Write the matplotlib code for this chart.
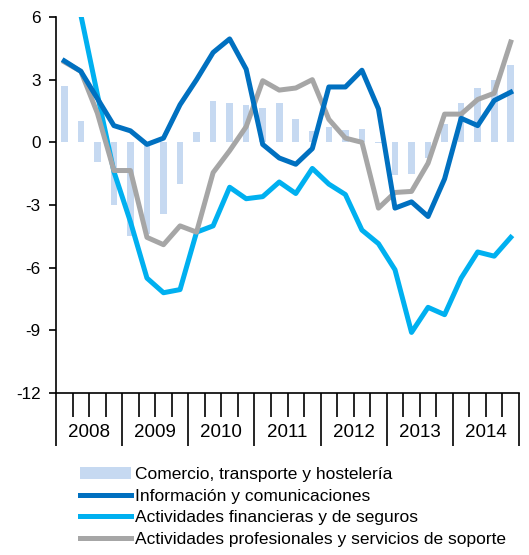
import matplotlib
matplotlib.use("Agg")
import matplotlib.pyplot as plt

plt.rcParams["font.family"] = ["Liberation Sans", "DejaVu Sans"]
plt.rcParams["axes.unicode_minus"] = False

#Quarterly data 2008Q1 - 2014Q4
years = ["2008", "2009", "2010", "2011", "2012", "2013", "2014"]

comercio = [2.7, 1.0, -0.95, -3.0, -4.5, -4.4, -3.45, -2.0,
            0.5, 2.0, 1.9, 1.8, 1.65, 1.9, 1.1, 0.55,
            0.75, 0.6, 0.62, -0.05, -1.55, -1.5, -0.75, 0.9,
            1.9, 2.6, 3.0, 3.7]

informacion = [3.9, 3.4, 2.1, 0.8, 0.55, -0.1, 0.2, 1.8,
               3.0, 4.3, 4.95, 3.5, -0.1, -0.75, -1.05, -0.3,
               2.65, 2.65, 3.45, 1.6, -3.15, -2.85, -3.55, -1.75,
               1.15, 0.8, 2.0, 2.4]

financieras = [10.5, 6.1, 2.3, -1.4, -3.8, -6.5, -7.2, -7.05,
               -4.3, -4.0, -2.15, -2.7, -2.6, -1.9, -2.45, -1.25,
               -2.0, -2.5, -4.2, -4.85, -6.1, -9.1, -7.9, -8.25,
               -6.5, -5.25, -5.45, -4.55]

profesionales = [3.85, 3.4, 1.4, -1.35, -1.35, -4.55, -4.9, -4.0,
                 -4.3, -1.45, -0.4, 0.75, 2.95, 2.5, 2.6, 3.0,
                 1.1, 0.2, 0.0, -3.15, -2.4, -2.35, -1.0, 1.35,
                 1.35, 2.05, 2.35, 4.8]

labels = ["Comercio, transporte y hostelería",
          "Información y comunicaciones",
          "Actividades financieras y de seguros",
          "Actividades profesionales y servicios de soporte"]

x = list(range(len(comercio)))

fig = plt.figure(figsize=(5.29, 5.55), dpi=100)
ax = fig.add_axes([0.1059, 0.2919, 0.8752, 0.6775])

bars = ax.bar(x, comercio, width=0.4, color="#C6D9F1", zorder=1)
l1, = ax.plot(x, informacion, color="#0070C0", lw=3.6, zorder=3)
l2, = ax.plot(x, financieras, color="#00B0F0", lw=3.6, zorder=2)
l3, = ax.plot(x, profesionales, color="#A6A6A6", lw=3.6, zorder=2.5)

ax.set_ylim(-12, 6)
ax.set_yticks([-12, -9, -6, -3, 0, 3, 6])
ax.set_xlim(-0.5, len(x) - 0.5)

#year boundaries = long ticks, quarters = short ticks
ax.set_xticks([i * 4 - 0.5 for i in range(len(years) + 1)])
ax.set_xticks([i - 0.5 for i in range(len(x) + 1)], minor=True)
ax.set_xticklabels([])
ax.tick_params(axis="x", which="major", length=38, width=1.2, direction="out")
ax.tick_params(axis="x", which="minor", length=17, width=1.2, direction="out")
ax.tick_params(axis="y", length=5, width=1.2, pad=6, labelsize=12.3)

for i, yr in enumerate(years):
    ax.text(i * 4 + 1.5, -0.105, yr, transform=ax.get_xaxis_transform(),
            ha="center", va="center", fontsize=13.5)

for s in ["top", "right"]:
    ax.spines[s].set_visible(False)
ax.spines["left"].set_linewidth(1.2)
ax.spines["bottom"].set_linewidth(1.2)

fig.legend([bars, l1, l2, l3], labels, loc="upper left",
           bbox_to_anchor=(80 / 529, 1 - 467 / 555), frameon=False,
           fontsize=12.5, handlelength=2.93, handletextpad=0.23,
           labelspacing=0.37, borderpad=0, borderaxespad=0)

plt.savefig("out.png", dpi=100)
